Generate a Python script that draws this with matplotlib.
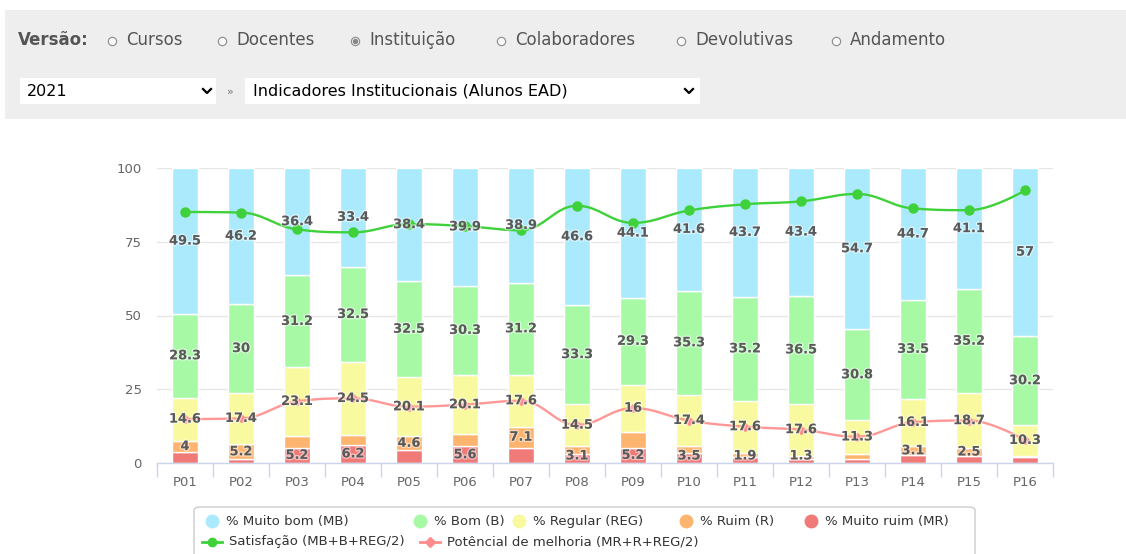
import numpy as np
import matplotlib
matplotlib.use("Agg")
import matplotlib.pyplot as plt
from matplotlib.patches import Rectangle, FancyBboxPatch
from matplotlib.lines import Line2D
import matplotlib.patheffects as pe

# ---------------- data ----------------
categories = ["P01", "P02", "P03", "P04", "P05", "P06", "P07", "P08",
              "P09", "P10", "P11", "P12", "P13", "P14", "P15", "P16"]
muito_bom = [49.5, 46.2, 36.4, 33.4, 38.4, 39.9, 38.9, 46.6, 44.1, 41.6, 43.7, 43.4, 54.7, 44.7, 41.1, 57.0]
bom       = [28.3, 30.0, 31.2, 32.5, 32.5, 30.3, 31.2, 33.3, 29.3, 35.3, 35.2, 36.5, 30.8, 33.5, 35.2, 30.2]
regular   = [14.6, 17.4, 23.1, 24.5, 20.1, 20.1, 17.6, 14.5, 16.0, 17.4, 17.6, 17.6, 11.3, 16.1, 18.7, 10.3]
ruim      = [4.0, 5.2, 4.1, 3.4, 4.6, 4.1, 7.1, 2.5, 5.4, 2.2, 1.6, 1.2, 2.0, 3.1, 2.5, 0.6]
muito_ruim = [3.6, 1.2, 5.2, 6.2, 4.4, 5.6, 5.2, 3.1, 5.2, 3.5, 1.9, 1.3, 1.2, 2.6, 2.5, 1.9]
satisfacao = [85.1, 84.9, 79.2, 78.2, 81.0, 80.3, 78.9, 87.2, 81.4, 85.6, 87.7, 88.7, 91.2, 86.3, 85.7, 92.4]
potencial  = [14.9, 15.1, 20.9, 21.9, 19.1, 19.8, 21.1, 12.9, 18.6, 14.4, 12.3, 11.3, 8.9, 13.8, 14.4, 7.7]
# which small-segment labels are visible (others hidden by overlap)
ruim_label_visible = [True, True, False, False, True, False, True, False,
                      False, False, False, False, False, True, True, False]
mr_label_visible = [False, False, True, True, False, True, False, True,
                    True, True, True, True, False, False, False, False]

series_names = ["% Muito bom (MB)", "% Bom (B)", "% Regular (REG)", "% Ruim (R)", "% Muito ruim (MR)"]
line_names = ["Satisfação (MB+B+REG/2)", "Potêncial de melhoria (MR+R+REG/2)"]
version_options = ["Cursos", "Docentes", "Instituição", "Colaboradores", "Devolutivas", "Andamento"]
year_choice = "2021"
report_choice = "Indicadores Institucionais (Alunos EAD)"

# ---------------- style ----------------
C_MB = "#abeafd"
C_B = "#a8f9a6"
C_REG = "#f9fa9f"
C_R = "#fdb46e"
C_MR = "#f07a78"
C_SAT = "#3fd13a"
C_POT = "#ff8c8c"

W, H = 1126, 554
fig = plt.figure(figsize=(W / 100, H / 100), dpi=100)
fig.patch.set_facecolor("white")

def fx(x):
    return x / W

def fy(y):
    return 1 - y / H

# ---------------- top panel ----------------
fig.patches.append(Rectangle((fx(5), fy(119)), fx(1126 - 5), (119 - 10) / H,
                             transform=fig.transFigure, facecolor="#eeeeee",
                             edgecolor="none", zorder=0))
fig.text(fx(18), fy(40), "Versão:", fontsize=12, fontweight="bold", color="#555555",
         va="center", ha="left")
radio_x = [112, 222, 355, 501, 681, 836]
for name, rx in zip(version_options, radio_x):
    selected = name == "Instituição"
    fig.add_artist(Line2D([fx(rx)], [fy(41)], transform=fig.transFigure, marker="o",
                          markersize=6, markerfacecolor="#f8f8f8",
                          markeredgecolor="#8a8a8a", markeredgewidth=0.8, linestyle="none"))
    if selected:
        fig.add_artist(Line2D([fx(rx)], [fy(41)], transform=fig.transFigure, marker="o",
                              markersize=3, color="#888888", linestyle="none"))
    fig.text(fx(rx + 14), fy(40), name, fontsize=12, color="#555555", va="center", ha="left")

# select boxes
for (x0, x1) in [(20, 216), (245, 700)]:
    fig.patches.append(Rectangle((fx(x0), fy(104)), (x1 - x0) / W, 26 / H,
                                 transform=fig.transFigure, facecolor="white",
                                 edgecolor="none", zorder=1))
fig.text(fx(27), fy(91), year_choice, fontsize=11.5, color="black", va="center", ha="left")
fig.text(fx(253), fy(91), report_choice, fontsize=11.5, color="black", va="center", ha="left")
for cx in [207, 689]:
    fig.add_artist(Line2D([fx(cx - 4), fx(cx), fx(cx + 4)], [fy(89), fy(93), fy(89)],
                          transform=fig.transFigure, color="black", linewidth=1.6))
fig.text(fx(230), fy(92), "»", fontsize=8, color="#777777", va="center", ha="center")

# ---------------- chart ----------------
ax = fig.add_axes([fx(157), 91 / H, 896 / W, 295 / H])
x = np.arange(len(categories))
bw = 0.48
layers = [(muito_ruim, C_MR), (ruim, C_R), (regular, C_REG), (bom, C_B), (muito_bom, C_MB)]
bottom = np.zeros(len(categories))
bottoms = []
for vals, col in layers:
    v = np.array(vals)
    ax.bar(x, v, bw, bottom=bottom, color=col, edgecolor="white", linewidth=1, zorder=2)
    bottoms.append(bottom.copy())
    bottom = bottom + v

ax.set_xlim(-0.5, len(categories) - 0.5)
ax.set_ylim(0, 100)
ax.set_yticks([0, 25, 50, 75, 100])
ax.yaxis.grid(True, color="#e6e6e6", linewidth=1)
ax.set_axisbelow(True)
for s in ["top", "right", "left"]:
    ax.spines[s].set_visible(False)
ax.spines["bottom"].set_color("#ccd6eb")
ax.spines["bottom"].set_linewidth(1)
ax.set_xticks(x)
ax.set_xticklabels(categories)
ax.set_xticks(np.arange(-0.5, len(categories) + 0.5, 1), minor=True)
ax.tick_params(axis="x", which="major", length=0, pad=9, labelsize=9.5, labelcolor="#666666")
ax.tick_params(axis="x", which="minor", length=10, color="#ccd6eb", width=1)
ax.tick_params(axis="y", length=0, pad=11, labelsize=9.5, labelcolor="#666666")

# spline like Highcharts
def hc_spline(xs, ys, smoothing=1.5, n=30):
    xs = np.asarray(xs, float)
    ys = np.asarray(ys, float)
    m = len(xs)
    lc = [(xs[i], ys[i]) for i in range(m)]
    rc = [(xs[i], ys[i]) for i in range(m)]
    denom = smoothing + 1
    for i in range(1, m - 1):
        px, py = xs[i], ys[i]
        lx, ly = xs[i - 1], ys[i - 1]
        nx, ny = xs[i + 1], ys[i + 1]
        lcx = (smoothing * px + lx) / denom
        lcy = (smoothing * py + ly) / denom
        rcx = (smoothing * px + nx) / denom
        rcy = (smoothing * py + ny) / denom
        if rcx != lcx:
            corr = ((rcy - lcy) * (rcx - px)) / (rcx - lcx) + py - rcy
            lcy += corr
            rcy += corr
        if lcy > ly and lcy > py:
            lcy = max(ly, py)
            rcy = 2 * py - lcy
        elif lcy < ly and lcy < py:
            lcy = min(ly, py)
            rcy = 2 * py - lcy
        if rcy > ny and rcy > py:
            rcy = max(ny, py)
            lcy = 2 * py - rcy
        elif rcy < ny and rcy < py:
            rcy = min(ny, py)
            lcy = 2 * py - rcy
        lc[i] = (lcx, lcy)
        rc[i] = (rcx, rcy)
    t = np.linspace(0, 1, n)
    outx, outy = [], []
    for i in range(m - 1):
        p0 = np.array([xs[i], ys[i]])
        p1 = np.array(rc[i])
        p2 = np.array(lc[i + 1])
        p3 = np.array([xs[i + 1], ys[i + 1]])
        b = ((1 - t) ** 3)[:, None] * p0 + (3 * (1 - t) ** 2 * t)[:, None] * p1 + \
            (3 * (1 - t) * t ** 2)[:, None] * p2 + (t ** 3)[:, None] * p3
        outx.extend(b[:, 0])
        outy.extend(b[:, 1])
    return np.array(outx), np.array(outy)

sx, sy = hc_spline(x, satisfacao)
ax.plot(sx, sy, color=C_SAT, linewidth=1.7, zorder=4, solid_capstyle="round")
ax.plot(x, satisfacao, linestyle="none", marker="o", markersize=6.5, color=C_SAT, zorder=5)
px_, py_ = hc_spline(x, potencial)
ax.plot(px_, py_, color=C_POT, linewidth=1.7, zorder=4, alpha=0.9)
ax.plot(x, potencial, linestyle="none", marker="D", markersize=4.5, color=C_POT, zorder=5)

# data labels
def fmt(v):
    return ("%g" % v)

lab_effect = [pe.withStroke(linewidth=2.0, foreground=(1, 1, 1, 0.5))]
layer_vals = [muito_ruim, ruim, regular, bom, muito_bom]
visible = [mr_label_visible, ruim_label_visible, [True] * 16, [True] * 16, [True] * 16]
for li, (vals, vis) in enumerate(zip(layer_vals, visible)):
    for i in range(len(categories)):
        if not vis[i]:
            continue
        yc = bottoms[li][i] + vals[i] / 2
        yc = max(yc, 2.4)
        ax.text(x[i], yc, fmt(vals[i]), ha="center", va="center", fontsize=9.3,
                fontweight="bold", color="#5a5a5a", zorder=6, path_effects=lab_effect)

# ---------------- legend ----------------
fig.patches.append(FancyBboxPatch((fx(194), fy(566)), 781 / W, 59 / H,
                                  boxstyle="round,pad=0,rounding_size=0.006",
                                  transform=fig.transFigure, facecolor="white",
                                  edgecolor="#cccccc", linewidth=1, zorder=1))
sym_x = [212, 420, 519, 686, 811]
cols = [C_MB, C_B, C_REG, C_R, C_MR]
for name, sxp, col in zip(series_names, sym_x, cols):
    fig.add_artist(Line2D([fx(sxp)], [fy(521)], transform=fig.transFigure, marker="o",
                          markersize=9, color=col, linestyle="none"))
    fig.text(fx(sxp + 14), fy(521), name, fontsize=9.5, color="#333333", va="center", ha="left")
for (x0, name, col, mk, ms) in [(202, line_names[0], C_SAT, "o", 6), (420, line_names[1], C_POT, "D", 5)]:
    fig.add_artist(Line2D([fx(x0), fx(x0 + 20)], [fy(542), fy(542)], transform=fig.transFigure,
                          color=col, linewidth=2))
    fig.add_artist(Line2D([fx(x0 + 10)], [fy(542)], transform=fig.transFigure, marker=mk,
                          markersize=ms, color=col, linestyle="none"))
    fig.text(fx(x0 + 27), fy(542), name, fontsize=9.5, color="#333333", va="center", ha="left")

fig.savefig("out.png", dpi=100)
